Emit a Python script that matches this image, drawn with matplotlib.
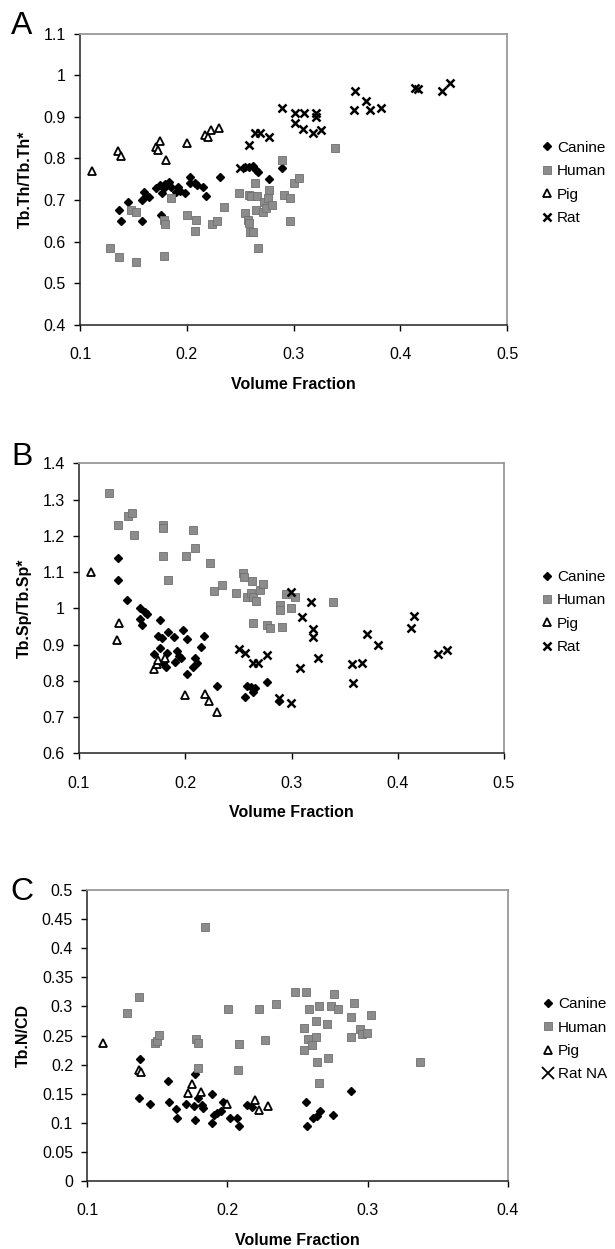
import numpy as np
import matplotlib
matplotlib.use("Agg")
import matplotlib.pyplot as plt
from matplotlib.ticker import FuncFormatter
from matplotlib.lines import Line2D

plt.rcParams['font.family'] = ['Liberation Sans', 'DejaVu Sans']

# ---- panel A: Tb.Th/Tb.Th* ----
canine_a_x = [0.137, 0.138, 0.145, 0.158, 0.158, 0.160, 0.162, 0.165, 0.171, 0.175, 0.176, 0.177,
              0.179, 0.180, 0.183, 0.185, 0.190, 0.192, 0.194, 0.198, 0.203, 0.203, 0.208, 0.210,
              0.2155, 0.218, 0.231, 0.2545, 0.258, 0.262, 0.2645, 0.267, 0.277, 0.2895]
canine_a_y = [0.677, 0.650, 0.695, 0.650, 0.701, 0.720, 0.710, 0.708, 0.728, 0.736, 0.664, 0.716,
              0.728, 0.739, 0.744, 0.732, 0.720, 0.732, 0.722, 0.718, 0.756, 0.741, 0.741, 0.735,
              0.732, 0.710, 0.756, 0.780, 0.780, 0.781, 0.773, 0.768, 0.750, 0.778]
human_a_x = [0.128, 0.137, 0.148, 0.152, 0.152, 0.1786, 0.179, 0.180, 0.185, 0.2005, 0.208, 0.209,
             0.224, 0.228, 0.235, 0.249, 0.255, 0.257, 0.258, 0.259, 0.262, 0.258, 0.260, 0.264,
             0.265, 0.266, 0.267, 0.271, 0.272, 0.274, 0.276, 0.277, 0.280, 0.2895, 0.291, 0.297,
             0.297, 0.3005, 0.305, 0.339]
human_a_y = [0.584, 0.564, 0.676, 0.672, 0.552, 0.565, 0.652, 0.642, 0.704, 0.664, 0.626, 0.653,
             0.642, 0.650, 0.684, 0.716, 0.669, 0.653, 0.644, 0.624, 0.624, 0.712, 0.710, 0.741,
             0.675, 0.709, 0.584, 0.672, 0.696, 0.680, 0.704, 0.725, 0.688, 0.796, 0.712, 0.704,
             0.650, 0.740, 0.752, 0.826]
pig_a_x = [0.111, 0.136, 0.138, 0.171, 0.173, 0.175, 0.181, 0.2005, 0.217, 0.220, 0.223, 0.230]
pig_a_y = [0.770, 0.818, 0.805, 0.828, 0.820, 0.841, 0.796, 0.836, 0.856, 0.852, 0.869, 0.874]
rat_a_x = [0.250, 0.258, 0.264, 0.269, 0.277, 0.289, 0.301, 0.301, 0.310, 0.309, 0.318, 0.321,
           0.321, 0.326, 0.357, 0.358, 0.368, 0.372, 0.382, 0.414, 0.417, 0.439, 0.447]
rat_a_y = [0.778, 0.832, 0.861, 0.861, 0.852, 0.922, 0.910, 0.886, 0.910, 0.870, 0.862, 0.908,
           0.900, 0.868, 0.916, 0.962, 0.938, 0.916, 0.922, 0.968, 0.966, 0.962, 0.982]

# ---- panel B: Tb.Sp/Tb.Sp* ----
canine_b_x = [0.137, 0.137, 0.145, 0.157, 0.157, 0.159, 0.162, 0.164, 0.176, 0.1705, 0.174, 0.176,
              0.178, 0.179, 0.182, 0.1825, 0.1834, 0.189, 0.190, 0.192, 0.194, 0.1956, 0.1975,
              0.202, 0.202, 0.2075, 0.209, 0.2107, 0.215, 0.2176, 0.230, 0.256, 0.2577, 0.262,
              0.264, 0.2656, 0.2765, 0.2878]
canine_b_y = [1.138, 1.078, 1.023, 1.000, 0.971, 0.954, 0.991, 0.984, 0.968, 0.874, 0.924, 0.890,
              0.917, 0.850, 0.839, 0.876, 0.936, 0.922, 0.853, 0.882, 0.869, 0.862, 0.940,
              0.914, 0.818, 0.839, 0.862, 0.850, 0.892, 0.924, 0.786, 0.754, 0.786, 0.782,
              0.770, 0.779, 0.798, 0.744]
human_b_x = [0.128, 0.137, 0.146, 0.1495, 0.152, 0.179, 0.179, 0.179, 0.184, 0.2007, 0.2075, 0.209,
             0.223, 0.227, 0.235, 0.248, 0.2546, 0.2555, 0.258, 0.262, 0.263, 0.264, 0.267, 0.270,
             0.2734, 0.2634, 0.277, 0.280, 0.291, 0.289, 0.289, 0.2947, 0.300, 0.303, 0.3386]
human_b_y = [1.319, 1.230, 1.255, 1.264, 1.202, 1.230, 1.221, 1.144, 1.078, 1.143, 1.216, 1.166,
             1.126, 1.048, 1.063, 1.041, 1.097, 1.087, 1.032, 1.041, 1.074, 1.032, 1.020, 1.051,
             1.066, 0.960, 0.954, 0.947, 0.948, 1.009, 0.995, 1.040, 1.000, 1.030, 1.017]
pig_b_x = [0.111, 0.136, 0.138, 0.171, 0.173, 0.174, 0.181, 0.1997, 0.219, 0.2226, 0.2295]
pig_b_y = [1.099, 0.913, 0.960, 0.832, 0.845, 0.858, 0.862, 0.761, 0.763, 0.743, 0.715]
rat_b_x = [0.2508, 0.2563, 0.264, 0.2687, 0.2765, 0.2885, 0.2994, 0.2994, 0.3179, 0.3095, 0.3198,
           0.3198, 0.3079, 0.3251, 0.3574, 0.3668, 0.358, 0.3715, 0.3816, 0.4129, 0.4155, 0.4381,
           0.4465]
rat_b_y = [0.888, 0.878, 0.850, 0.850, 0.871, 0.752, 0.740, 1.046, 1.017, 0.977, 0.943,
           0.922, 0.835, 0.862, 0.846, 0.848, 0.795, 0.929, 0.899, 0.945, 0.980, 0.873,
           0.885]

# ---- panel C: Tb.N/CD (no rat data) ----
canine_c_x = [0.1378, 0.137, 0.1449, 0.1575, 0.1584, 0.1634, 0.1641, 0.1706, 0.1763, 0.177, 0.177,
              0.1794, 0.1817, 0.1829, 0.1889, 0.1889, 0.1905, 0.1924, 0.1955, 0.1972, 0.2019,
              0.207, 0.2086, 0.2138, 0.2174, 0.2559, 0.2568, 0.2613, 0.2637, 0.2661, 0.2756, 0.2879]
canine_c_y = [0.209, 0.143, 0.132, 0.172, 0.136, 0.124, 0.109, 0.133, 0.129, 0.184, 0.104,
              0.142, 0.131, 0.125, 0.150, 0.100, 0.113, 0.116, 0.121, 0.135, 0.108,
              0.108, 0.094, 0.131, 0.128, 0.135, 0.094, 0.108, 0.112, 0.120, 0.113, 0.154]
human_c_x = [0.1287, 0.1373, 0.1485, 0.150, 0.1516, 0.178, 0.179, 0.179, 0.1843, 0.2003, 0.2086,
             0.2074, 0.2228, 0.2269, 0.2347, 0.2483, 0.2561, 0.2549, 0.2547, 0.258, 0.2578, 0.2601,
             0.2632, 0.2632, 0.2637, 0.2656, 0.2656, 0.2708, 0.2715, 0.2739, 0.276, 0.2791,
             0.2879, 0.2882, 0.2905, 0.2946, 0.2958, 0.2993, 0.3024, 0.3374]
human_c_y = [0.289, 0.317, 0.237, 0.241, 0.251, 0.244, 0.237, 0.195, 0.436, 0.296, 0.235,
             0.191, 0.295, 0.242, 0.304, 0.325, 0.325, 0.263, 0.225, 0.295, 0.244, 0.234,
             0.275, 0.248, 0.204, 0.301, 0.169, 0.270, 0.211, 0.301, 0.322, 0.295,
             0.282, 0.247, 0.305, 0.261, 0.253, 0.254, 0.285, 0.205]
pig_c_x = [0.1112, 0.137, 0.1385, 0.1718, 0.1746, 0.181, 0.1995, 0.2197, 0.2226, 0.2292]
pig_c_y = [0.237, 0.191, 0.188, 0.152, 0.166, 0.153, 0.133, 0.139, 0.122, 0.129]

W, H = 615, 1249
fig = plt.figure(figsize=(W / 100, H / 100), dpi=100)


def px_axes(left, right, top, bottom):
    return fig.add_axes([left / W, 1 - bottom / H, (right - left) / W, (bottom - top) / H])


def fmt(v, pos):
    return f'{round(v, 3):g}'


def style(ax, xlim, ylim, yticks, ylabel, ylab_x):
    ax.set_xlim(*xlim)
    ax.set_ylim(*ylim)
    ax.set_xticks(np.arange(xlim[0], xlim[1] + 1e-9, 0.1))
    ax.set_yticks(yticks)
    ax.xaxis.set_major_formatter(FuncFormatter(fmt))
    ax.yaxis.set_major_formatter(FuncFormatter(fmt))
    ax.tick_params(direction='out', length=4, width=1, labelsize=11.5)
    ax.tick_params(axis='x', pad=12)
    ax.tick_params(axis='y', pad=6)
    for s in ['top', 'right']:
        ax.spines[s].set_color('#9a9a9a')
        ax.spines[s].set_linewidth(1.3)
    for s in ['left', 'bottom']:
        ax.spines[s].set_color('#222222')
        ax.spines[s].set_linewidth(1.1)
    ax.set_xlabel('Volume Fraction', fontsize=11.5, fontweight='bold')
    ax.xaxis.set_label_coords(0.5, -0.205)
    ax.xaxis.label.set_va('center')
    ax.set_ylabel(ylabel, fontsize=11.5, fontweight='bold')
    ax.yaxis.set_label_coords(ylab_x, 0.5)
    ax.yaxis.label.set_va('center')


def draw(ax, cx, cy, hx, hy, px, py, rx=None, ry=None):
    ax.plot(cx, cy, 'D', color='black', markersize=4.3, linestyle='none', label='Canine')
    ax.plot(hx, hy, 's', color='#8c8c8c', markeredgecolor='#707070', markeredgewidth=0.6,
            markersize=5.6, linestyle='none', label='Human')
    ax.plot(px, py, '^', markerfacecolor='white', markeredgecolor='black', markeredgewidth=1.3,
            markersize=5.8, linestyle='none', label='Pig')
    if rx is not None:
        ax.plot(rx, ry, 'x', color='black', markersize=6.2, markeredgewidth=1.8,
                linestyle='none', label='Rat')


def legend(ax, xpos, handles=None):
    kw = dict(loc='center left', bbox_to_anchor=(xpos, 0.487), frameon=False, fontsize=11,
              borderaxespad=0, borderpad=0, handlelength=0.8, handletextpad=0.25,
              labelspacing=0.62)
    if handles is not None:
        ax.legend(handles=handles, **kw)
    else:
        ax.legend(**kw)


# Panel A
axA = px_axes(80, 507, 33.5, 325)
draw(axA, canine_a_x, canine_a_y, human_a_x, human_a_y, pig_a_x, pig_a_y, rat_a_x, rat_a_y)
style(axA, (0.1, 0.5), (0.4, 1.1), np.arange(0.4, 1.1001, 0.1), 'Tb.Th/Tb.Th*', -0.127)
legend(axA, 1.08)

# Panel B
axB = px_axes(79, 504, 463.3, 753.3)
draw(axB, canine_b_x, canine_b_y, human_b_x, human_b_y, pig_b_x, pig_b_y, rat_b_x, rat_b_y)
style(axB, (0.1, 0.5), (0.6, 1.4), np.arange(0.6, 1.4001, 0.1), 'Tb.Sp/Tb.Sp*', -0.128)
legend(axB, 1.087)

# Panel C
axC = px_axes(87, 508, 890, 1181)
draw(axC, canine_c_x, canine_c_y, human_c_x, human_c_y, pig_c_x, pig_c_y)
style(axC, (0.1, 0.4), (0.0, 0.5), np.arange(0.0, 0.5001, 0.05), 'Tb.N/CD', -0.150)
hC = axC.get_legend_handles_labels()[0]
hC.append(Line2D([], [], marker='x', color='black', markersize=9, markeredgewidth=1.3,
                 linestyle='none', label='Rat NA'))
legend(axC, 1.081, hC)

# panel letters
for lab, yc in [('A', 26), ('B', 457), ('C', 892)]:
    fig.text(22 / W, 1 - yc / H, lab, fontsize=23, ha='center', va='center')

fig.savefig('out.png', dpi=100, facecolor='white')
